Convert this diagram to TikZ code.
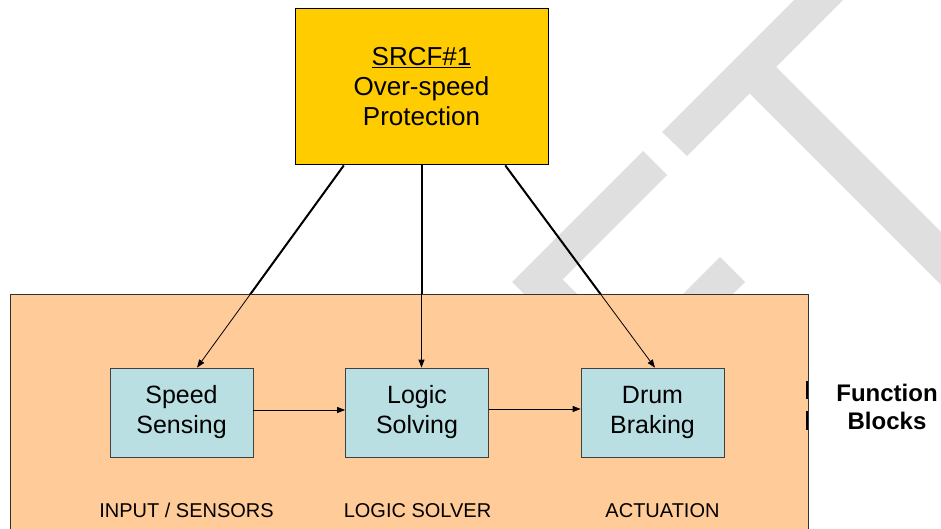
\documentclass[tikz,border=0pt]{standalone}
\usepackage{fontspec}
\setmainfont{Liberation Sans}
\usetikzlibrary{arrows.meta,calc}

\definecolor{srcfyellow}{HTML}{FFCC00}
\definecolor{blockpeach}{HTML}{FFCC99}
\definecolor{funcblue}{HTML}{BADFE3}
\definecolor{stencilgray}{HTML}{DFDFDF}

\tikzset{
  funcbox/.style={draw=black!75, line width=0.8pt, fill=funcblue,
    minimum width=143pt, minimum height=89pt, inner sep=0pt, align=center,
    font=\fontsize{25}{30}\selectfont},
  srcfbox/.style={draw=black, line width=1pt, fill=srcfyellow,
    minimum width=253pt, minimum height=156pt, inner sep=0pt, align=center,
    font=\fontsize{26}{30}\selectfont},
  stagelabel/.style={anchor=base, inner sep=0pt, font=\fontsize{20}{24}\selectfont},
  sidelabel/.style={anchor=base, inner sep=0pt, font=\fontsize{24}{28}\selectfont\bfseries},
  linkthick/.style={line width=2pt},
  linkthin/.style={line width=0.8pt, -{Triangle[length=8pt,width=6pt]}},
  flow/.style={line width=0.8pt, -{Triangle[length=8pt,width=6pt]}},
  stencil/.style={fill=stencilgray, draw=none}
}

\begin{document}
\begin{tikzpicture}[x=1pt, y=-1pt]
  \useasboundingbox (0,0) rectangle (941,529);
  \clip (0,0) rectangle (941,529);

  % faint stencil letters "F" and "T" in the background
  \fill[stencil] (512,282) -- (643,151) -- (667,175) -- (562.5,279.5)
                 -- (683,400) -- (630,400) -- cycle;
  \fill[stencil] (720,257) -- (745,282) -- (655,372) -- (630,347) -- cycle;
  \fill[stencil] (662,132) -- (854,-60) -- (903,-60) -- (687,156) -- cycle;
  \fill[stencil] (738,82) -- (764.5,55.5) -- (1109,400) -- (1056,400) -- cycle;

  % the nodes
  \node[srcfbox] (srcf) at (421.5,87)
    {\underline{SRCF\#1}\\Over-speed\\Protection};
  \node[funcbox] (speed) at (181.5,412.5) {Speed\\Sensing};
  \node[funcbox] (logic) at (417,412.5)   {Logic\\Solving};
  \node[funcbox] (drum)  at (652.5,412.5) {Drum\\Braking};

  % end points of the links on the box edges
  \coordinate (sL) at ($(srcf.south west)!0.194!(srcf.south east)$);
  \coordinate (sR) at ($(srcf.south west)!0.83!(srcf.south east)$);
  \coordinate (tS) at ($(speed.north west)!0.608!(speed.north east)$);
  \coordinate (tL) at (srcf.south |- logic.north);
  \coordinate (tD) at ($(drum.north west)!0.517!(drum.north east)$);

  % heavy upper part of the links (covered by the block panel below)
  \draw[linkthick] (sL) -- (tS);
  \draw[linkthick] (srcf.south) -- (tL);
  \draw[linkthick] (sR) -- (tD);

  % function block panel
  \filldraw[fill=blockpeach, draw=black!80, line width=1pt]
    (10,294) rectangle (808,560);
  \draw[line width=2pt] (806.8,381) -- (806.8,399);
  \draw[line width=2pt] (806.8,411) -- (806.8,430);

  % thin lower part of the links with arrowheads
  \draw[linkthin] (sL) -- (tS);
  \draw[linkthin] (srcf.south) -- (tL);
  \draw[linkthin] (sR) -- (tD);

  % redraw the boxes on top
  \node[srcfbox] at (srcf) {\underline{SRCF\#1}\\Over-speed\\Protection};
  \node[funcbox] at (speed) {Speed\\Sensing};
  \node[funcbox] at (logic) {Logic\\Solving};
  \node[funcbox] at (drum)  {Drum\\Braking};

  % signal flow between blocks
  \draw[flow] ([yshift=2.5pt]speed.east) -- ([yshift=2.5pt]speed.east -| logic.west);
  \draw[flow] ([yshift=3.5pt]logic.east) -- ([yshift=3.5pt]logic.east -| drum.west);

  % stage labels
  \node[stagelabel] (lin)  at (186.5,517) {INPUT / SENSORS};
  \node[stagelabel] (llog) at (417.5,517) {LOGIC SOLVER};
  \node[stagelabel] (lact) at (662.5,517) {ACTUATION};

  \node[sidelabel] (fb1) at (887,401) {Function};
  \node[sidelabel] (fb2) at (887,429) {Blocks};
\end{tikzpicture}
\end{document}
